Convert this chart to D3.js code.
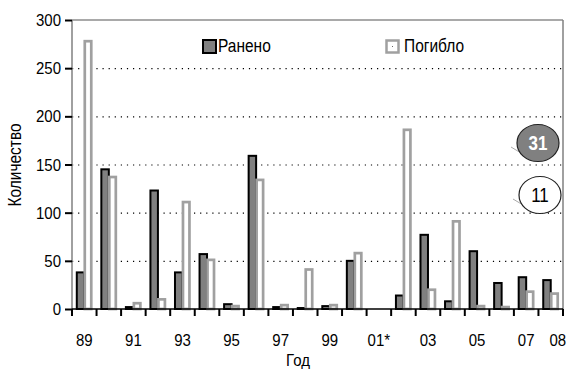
<!DOCTYPE html>
<html>
<head>
<meta charset="utf-8">
<script src="https://cdn.jsdelivr.net/npm/d3@7"></script>
<style>
  body { margin: 0; background: #fff; }
  text { font-family: "Liberation Sans", Arial, sans-serif; fill: #000; }
</style>
</head>
<body>
<div id="chart"></div>
<script>
"use strict"

const years = ["89", "90", "91", "92", "93", "94", "95", "96", "97", "98", "99",
               "00", "01*", "02", "03", "04", "05", "06", "07", "08"]
const wounded = [38, 145, 2, 123, 38, 57, 5, 159, 2, 1, 3, 50, 0, 14, 77, 8, 60, 27, 33, 30]
const killed  = [278, 137, 6, 10, 111, 51, 3, 134, 4, 41, 4, 58, 0, 186, 20, 91, 3, 2, 18, 16]
const seriesNames = ["Ранено", "Погибло"]
const tickLabels = ["89", "91", "93", "95", "97", "99", "01*", "03", "05", "07", "08"]
const yTicks = [0, 50, 100, 150, 200, 250, 300]
const callouts = ["31", "11"]

const width = 566, height = 370
const plot = { left: 72, right: 563, top: 20, bottom: 309 }
const stretch = 1.15

const svg = d3.select("#chart").append("svg")
  .attr("width", width)
  .attr("height", height)

const x = d3.scaleBand()
  .domain(years)
  .range([plot.left, plot.right])

const inner = d3.scaleBand()
  .domain(seriesNames)
  .range([0, x.bandwidth()])
  .paddingOuter(0.64)

const y = d3.scaleLinear()
  .domain([0, 300])
  .range([plot.bottom, plot.top])

// text with the tall, narrow look of the original
function label(parent, tx, ty, str, size, anchor, rotate) {
  let g = parent.append("g")
    .attr("transform", `translate(${tx},${ty}) rotate(${rotate || 0}) scale(1,${stretch})`)
  return g.append("text")
    .attr("font-size", size)
    .attr("text-anchor", anchor || "start")
    .text(str)
}

// grid
svg.append("g")
  .selectAll("line")
  .data(yTicks.filter((d) => d > 0 && d < 300))
  .enter()
    .append("line")
    .attr("x1", plot.left)
    .attr("x2", plot.right)
    .attr("y1", (d) => y(d) + 0.5)
    .attr("y2", (d) => y(d) + 0.5)
    .attr("stroke", "#000")
    .attr("stroke-width", 1.2)
    .attr("stroke-dasharray", "1.2 4.9")

// frame
svg.append("line")
  .attr("x1", plot.left).attr("x2", plot.right)
  .attr("y1", y(300)).attr("y2", y(300))
  .attr("stroke", "#555").attr("stroke-width", 1.2)
svg.append("line")
  .attr("x1", plot.right).attr("x2", plot.right)
  .attr("y1", y(300)).attr("y2", plot.bottom)
  .attr("stroke", "#808080").attr("stroke-width", 1.5)
svg.append("line")
  .attr("x1", plot.left).attr("x2", plot.left)
  .attr("y1", y(300)).attr("y2", plot.bottom)
  .attr("stroke", "#808080").attr("stroke-width", 1.5)

// bars
let rows = years.map((yr, i) => ({ yr, w: wounded[i], k: killed[i] }))

let groups = svg.append("g")
  .selectAll("g")
  .data(rows)
  .enter()
    .append("g")
    .attr("transform", (d) => `translate(${x(d.yr)},0)`)

groups.filter((d) => d.w > 0)
  .append("rect")
  .attr("x", inner(seriesNames[0]))
  .attr("y", (d) => y(d.w))
  .attr("width", inner.bandwidth())
  .attr("height", (d) => y(0) - y(d.w))
  .attr("fill", "#808080")
  .attr("stroke", "#000")
  .attr("stroke-width", 2)

groups.filter((d) => d.k > 0)
  .append("rect")
  .attr("x", inner(seriesNames[1]) + 0.5)
  .attr("y", (d) => y(d.k))
  .attr("width", inner.bandwidth() - 1)
  .attr("height", (d) => y(0) - y(d.k))
  .attr("fill", "#fff")
  .attr("stroke", "#a0a0a0")
  .attr("stroke-width", 2.7)

// x axis
svg.append("line")
  .attr("x1", plot.left).attr("x2", plot.right)
  .attr("y1", plot.bottom).attr("y2", plot.bottom)
  .attr("stroke", "#000").attr("stroke-width", 1.5)

svg.append("g")
  .selectAll("line")
  .data(years.concat([null]))
  .enter()
    .append("line")
    .attr("x1", (d) => d ? x(d) : plot.right)
    .attr("x2", (d) => d ? x(d) : plot.right)
    .attr("y1", plot.bottom)
    .attr("y2", plot.bottom + 7)
    .attr("stroke", "#000")
    .attr("stroke-width", 2)

let xLabelsG = svg.append("g")
tickLabels.forEach((t, i) => {
  let cx = x(t) + x.bandwidth() / 2 + (i == tickLabels.length - 1 ? 7 : 0)
  label(xLabelsG, cx, 346, t, 15, "middle")
})

// y axis
svg.append("g")
  .selectAll("line")
  .data(yTicks)
  .enter()
    .append("line")
    .attr("x1", plot.left - 7)
    .attr("x2", plot.left)
    .attr("y1", (d) => y(d) + 0.5)
    .attr("y2", (d) => y(d) + 0.5)
    .attr("stroke", "#000")
    .attr("stroke-width", 2)

let yLabelsG = svg.append("g")
yTicks.forEach((t) => label(yLabelsG, 61, y(t) + 6, t, 15, "end"))

label(svg, 21, 165, "Количество", 15.5, "middle", -90)
label(svg, 298, 366, "Год", 15, "middle")

// legend
let legend = svg.append("g")
legend.append("rect")
  .attr("x", 203).attr("y", 40).attr("width", 13).attr("height", 13)
  .attr("fill", "#808080").attr("stroke", "#000").attr("stroke-width", 2)
label(legend, 218, 52, seriesNames[0], 15.5)

legend.append("rect")
  .attr("x", 386.5).attr("y", 40.5).attr("width", 12).attr("height", 12)
  .attr("fill", "#fff").attr("stroke", "#a0a0a0").attr("stroke-width", 2.5)
legend.append("rect")
  .attr("x", 392).attr("y", 46).attr("width", 1).attr("height", 1)
  .attr("fill", "#666")
label(legend, 404, 52, seriesNames[1], 15.5)

// callouts
let bubbles = [
  { text: callouts[0], cx: 538, cy: 143, fill: "#808080", color: "#fff", weight: "bold" },
  { text: callouts[1], cx: 540, cy: 195, fill: "#fff", color: "#000", weight: "normal" }
]
bubbles.forEach((b) => {
  svg.append("line")
    .attr("x1", b.cx - 27).attr("y1", b.cy + 4)
    .attr("x2", b.cx - 17).attr("y2", b.cy + 10)
    .attr("stroke", "#aaa").attr("stroke-width", 1)
  svg.append("ellipse")
    .attr("cx", b.cx).attr("cy", b.cy)
    .attr("rx", 21).attr("ry", 18.5)
    .attr("fill", b.fill)
    .attr("stroke", "#222")
    .attr("stroke-width", 1.2)
  label(svg, b.cx, b.cy + 7, b.text, 17, "middle")
    .attr("font-weight", b.weight)
    .style("fill", b.color)
})
</script>
</body>
</html>
